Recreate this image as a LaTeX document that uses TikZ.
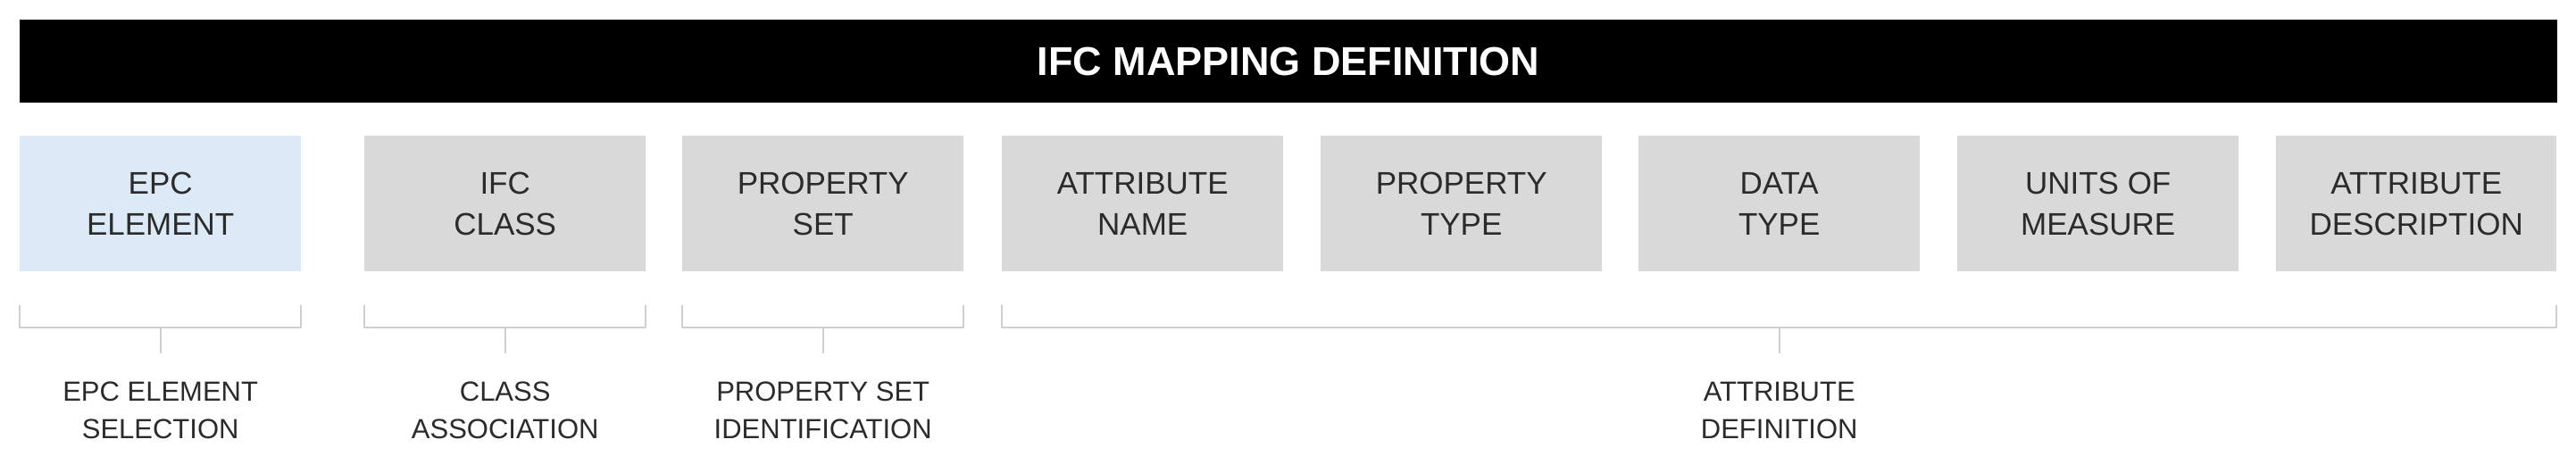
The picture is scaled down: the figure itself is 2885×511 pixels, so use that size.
\documentclass[tikz,border=0pt]{standalone}
\usepackage{fontspec}
\setmainfont{Liberation Sans}
\usetikzlibrary{calc}
\definecolor{boxgray}{HTML}{D9D9D9}
\definecolor{boxblue}{HTML}{DCE9F6}
\definecolor{bracegray}{HTML}{CFCFCF}
\definecolor{txtdark}{HTML}{2B2B2B}
\tikzset{
  cell/.style={fill=boxgray, draw=none, minimum width=315pt, minimum height=152pt, inner sep=0pt,
    align=center, text=txtdark, font=\fontsize{35pt}{46pt}\selectfont, anchor=north west},
  bluecell/.style={cell, fill=boxblue},
  titlebar/.style={fill=black, draw=none, minimum width=2842pt, minimum height=93pt, inner sep=0pt,
    text=white, font=\fontsize{45pt}{54pt}\selectfont\bfseries, anchor=north west},
  brace/.style={draw=bracegray, line width=2pt, line join=round, line cap=round},
  steplabel/.style={align=center, text=txtdark, font=\fontsize{31pt}{42pt}\selectfont, anchor=north}
}
\begin{document}
\begin{tikzpicture}[x=1pt, y=-1pt]
\useasboundingbox (0,0) rectangle (2885,511);
\fill[white] (0,0) rectangle (2885,511);
\node[titlebar] (title) at (22,22) {IFC MAPPING DEFINITION};
\node[bluecell] (b1) at (22,152) {EPC\\ELEMENT};
\node[cell] (b2) at (408,152) {IFC\\CLASS};
\node[cell] (b3) at (764,152) {PROPERTY\\SET};
\node[cell] (b4) at (1122,152) {ATTRIBUTE\\NAME};
\node[cell] (b5) at (1479,152) {PROPERTY\\TYPE};
\node[cell] (b6) at (1835,152) {DATA\\TYPE};
\node[cell] (b7) at (2192,152) {UNITS OF\\MEASURE};
\node[cell, minimum width=314pt] (b8) at (2549,152) {ATTRIBUTE\\DESCRIPTION};
% braces
\foreach \b in {b1,b2,b3}{
  \draw[brace] ([yshift=-38pt]\b.south west) -- ([yshift=-63pt]\b.south west)
     -- ([yshift=-63pt]\b.south east) -- ([yshift=-38pt]\b.south east);
  \draw[brace] ([yshift=-63pt]\b.south) -- ([yshift=-91pt]\b.south);
}
\draw[brace] ([yshift=-38pt]b4.south west) -- ([yshift=-63pt]b4.south west)
     -- ([yshift=-63pt]b8.south east) -- ([yshift=-38pt]b8.south east);
\coordinate (mid) at ($(b4.south west)!0.5!(b8.south east)$);
\draw[brace] ([yshift=-63pt]mid) -- ([yshift=-91pt]mid);
% labels
\node[steplabel] (l1) at ([yshift=-120pt]b1.south) {EPC ELEMENT\\SELECTION};
\node[steplabel] (l2) at ([yshift=-120pt]b2.south) {CLASS\\ASSOCIATION};
\node[steplabel] (l3) at ([yshift=-120pt]b3.south) {PROPERTY SET\\IDENTIFICATION};
\node[steplabel] (l4) at ([yshift=-120pt]mid) {ATTRIBUTE\\DEFINITION};
\end{tikzpicture}
\end{document}
